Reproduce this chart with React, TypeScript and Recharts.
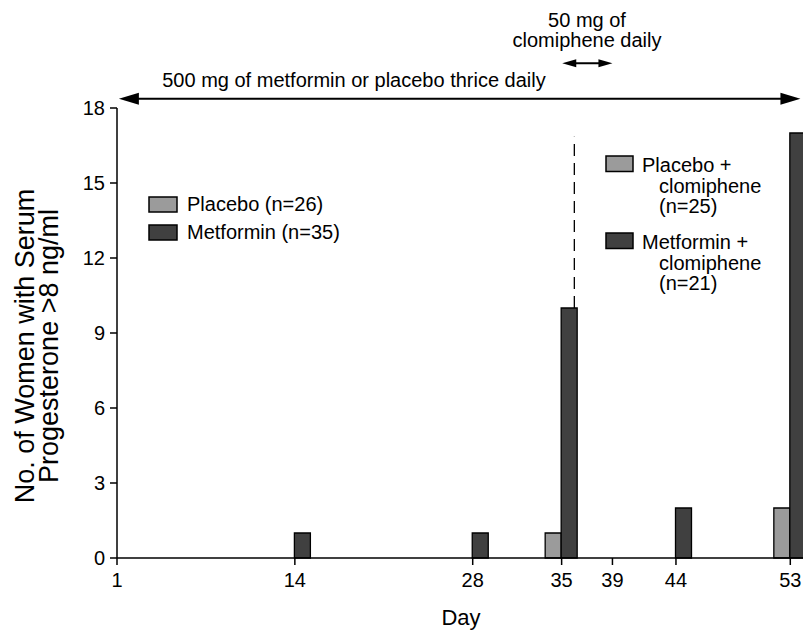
import React from 'react';
import { BarChart, Bar, XAxis, YAxis, ReferenceLine } from 'recharts';

// days on which progesterone was measured (axis origin is labelled "1")
const days = [14, 28, 35, 44, 53];
const placeboCounts = [null, null, 1, null, 2];
const metforminCounts = [1, 1, 10, 2, 17];

const xTicks = [0, 14, 28, 35, 39, 44, 53];
const xTickLabels = ['1', '14', '28', '35', '39', '44', '53'];
const yTicks = [0, 3, 6, 9, 12, 15, 18];

const seriesNames = ['Placebo (n=26)', 'Metformin (n=35)'];
const clomipheneNames = [
  ['Placebo +', 'clomiphene', '(n=25)'],
  ['Metformin +', 'clomiphene', '(n=21)'],
];
const seriesColors = ['#9b9b9b', '#404040'];

const FONT = '"Liberation Sans", Arial, Helvetica, sans-serif';

const chartData = days.map((day, i) => ({
  day,
  placebo: placeboCounts[i],
  metformin: metforminCounts[i],
}));

function DoubleArrow(props: any) {
  const { x1, y1, x2, head, half } = props;
  const y = y1;
  return (
    <g>
      <line x1={x1 + head - 1} y1={y} x2={x2 - head + 1} y2={y} stroke="#000" strokeWidth={2} />
      <polygon points={`${x1},${y} ${x1 + head},${y - half} ${x1 + head},${y + half}`} fill="#000" />
      <polygon points={`${x2},${y} ${x2 - head},${y - half} ${x2 - head},${y + half}`} fill="#000" />
    </g>
  );
}

export default function App() {
  const tickStyle = { fill: '#000', fontSize: 20, fontFamily: FONT };

  return (
    <div style={{ position: 'absolute', left: 0, top: 0, width: 803, height: 630, fontFamily: FONT, background: '#fff' }}>
      <BarChart
        width={803}
        height={630}
        data={chartData}
        margin={{ top: 108, right: 0, bottom: 42, left: 47 }}
        barSize={16}
        barGap={0}
      >
        <XAxis
          dataKey="day"
          type="number"
          domain={[0, 54]}
          ticks={xTicks}
          height={30}
          tickFormatter={(v: number) => xTickLabels[xTicks.indexOf(v)] ?? String(v)}
          tick={tickStyle}
          tickSize={7}
          tickMargin={8}
          axisLine={{ stroke: '#000', strokeWidth: 1.5 }}
          tickLine={{ stroke: '#000', strokeWidth: 1.5 }}
          allowDecimals={false}
        />
        <YAxis
          type="number"
          domain={[0, 18]}
          ticks={yTicks}
          width={70}
          tick={tickStyle}
          tickSize={7}
          tickMargin={5}
          axisLine={{ stroke: '#000', strokeWidth: 1.5 }}
          tickLine={{ stroke: '#000', strokeWidth: 1.5 }}
        />
        <Bar dataKey="placebo" name={seriesNames[0]} fill={seriesColors[0]} stroke="#000" strokeWidth={1.3} isAnimationActive={false} />
        <Bar dataKey="metformin" name={seriesNames[1]} fill={seriesColors[1]} stroke="#000" strokeWidth={1.3} isAnimationActive={false} />
        <ReferenceLine
          segment={[{ x: 36, y: 10 }, { x: 36, y: 16.85 }]}
          ifOverflow="visible"
          stroke="#000"
          strokeWidth={1.3}
          strokeDasharray="12 7"
        />
        <ReferenceLine
          segment={[{ x: 0.15, y: 18.37 }, { x: 53.8, y: 18.37 }]}
          ifOverflow="visible"
          shape={(p: any) => <DoubleArrow {...p} head={20} half={6} />}
        />
        <ReferenceLine
          segment={[{ x: 35.05, y: 19.79 }, { x: 39, y: 19.79 }]}
          ifOverflow="visible"
          shape={(p: any) => <DoubleArrow {...p} head={14} half={4} />}
        />
      </BarChart>

      <svg
        width={803}
        height={630}
        style={{ position: 'absolute', left: 0, top: 0, pointerEvents: 'none' }}
        fontFamily={FONT}
      >
        <text x={354} y={87} fontSize={20} textAnchor="middle">500 mg of metformin or placebo thrice daily</text>
        <text x={587} y={27} fontSize={20} textAnchor="middle">50 mg of</text>
        <text x={587} y={47} fontSize={20} textAnchor="middle">clomiphene daily</text>

        <g transform="rotate(-90 34 346)">
          <text x={34} y={346} fontSize={27} textAnchor="middle">No. of Women with Serum</text>
        </g>
        <g transform="rotate(-90 58 346)">
          <text x={58} y={346} fontSize={27} textAnchor="middle">Progesterone &gt;8 ng/ml</text>
        </g>
        <text x={461} y={625} fontSize={22} textAnchor="middle">Day</text>

        {seriesNames.map((name, i) => (
          <g key={name}>
            <rect x={149} y={197 + i * 28} width={28} height={15} fill={seriesColors[i]} stroke="#000" strokeWidth={1.5} />
            <text x={187} y={211 + i * 28} fontSize={20}>{name}</text>
          </g>
        ))}

        {clomipheneNames.map((lines, i) => {
          const top = 156 + i * 77;
          return (
            <g key={lines[0]}>
              <rect x={606} y={top} width={27} height={15.5} fill={seriesColors[i]} stroke="#000" strokeWidth={1.5} />
              <text x={642} y={top + 15.5} fontSize={20}>{lines[0]}</text>
              <text x={659} y={top + 36.5} fontSize={20}>{lines[1]}</text>
              <text x={659} y={top + 56.5} fontSize={20}>{lines[2]}</text>
            </g>
          );
        })}
      </svg>
    </div>
  );
}
